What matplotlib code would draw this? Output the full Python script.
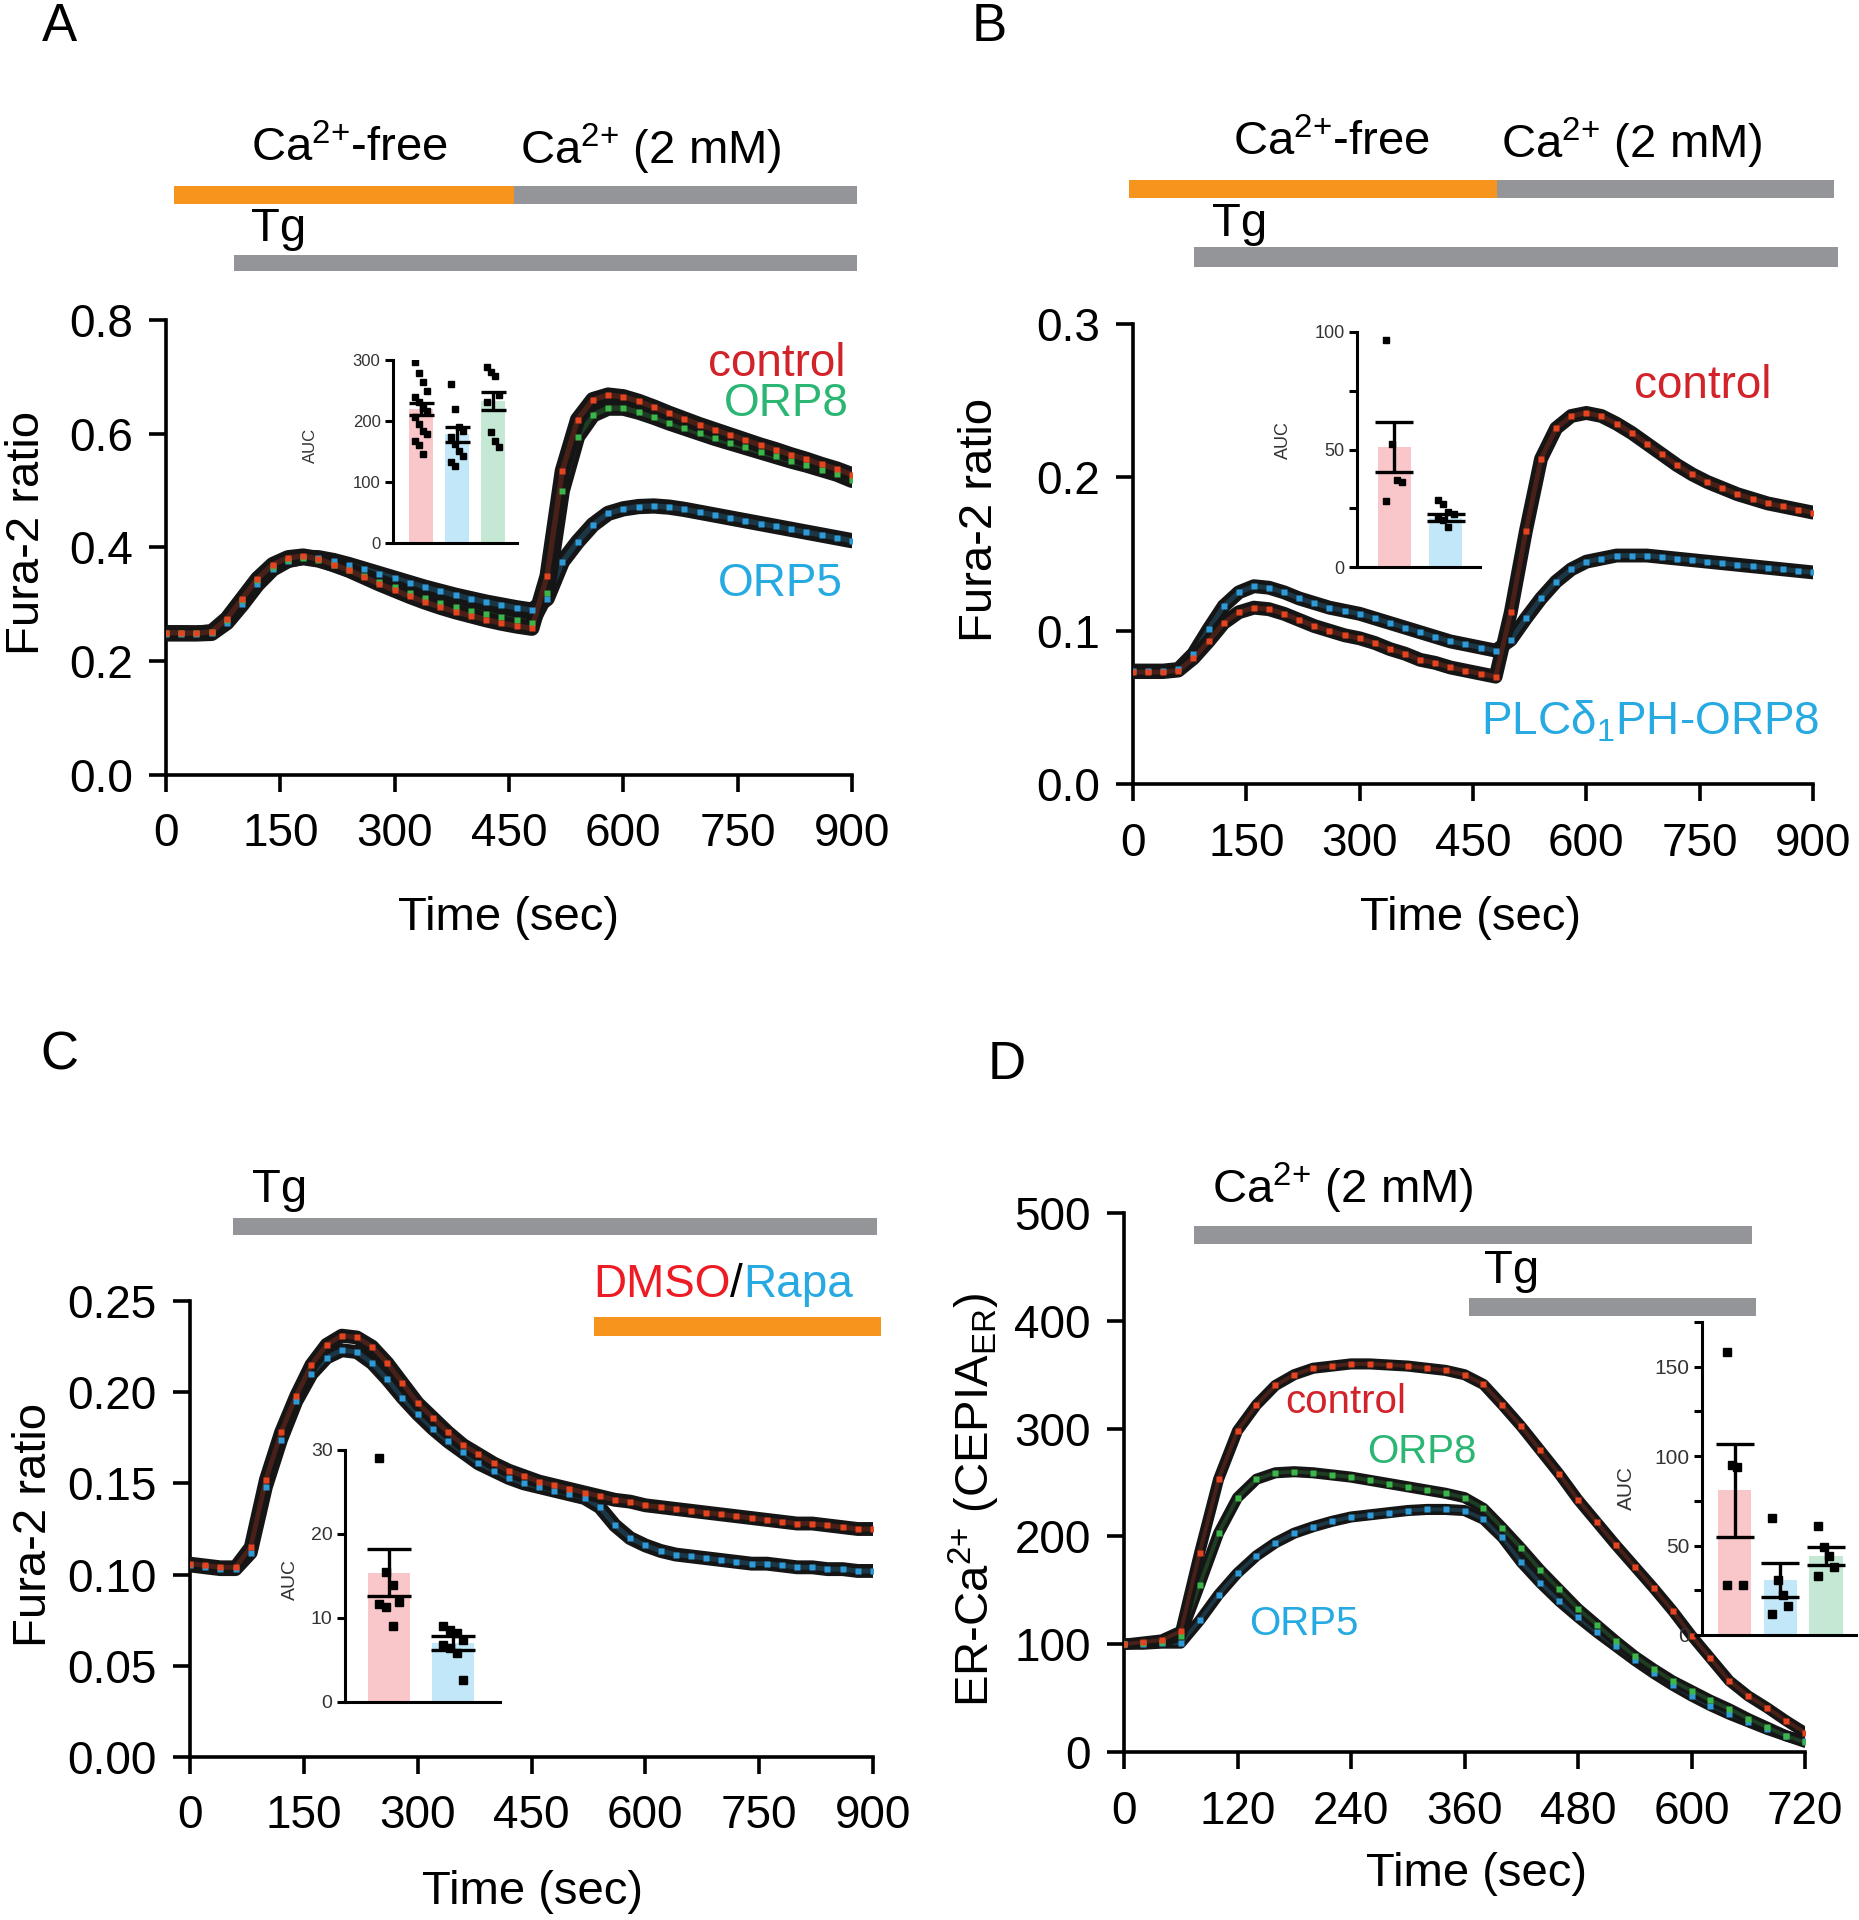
import numpy as np
import matplotlib
matplotlib.use('Agg')
import matplotlib.pyplot as plt
import matplotlib.transforms as mtransforms
from matplotlib.patches import Rectangle
from matplotlib.ticker import FormatStrFormatter

plt.rcParams['font.family'] = ['Liberation Sans', 'DejaVu Sans']
plt.rcParams['mathtext.fontset'] = 'custom'
plt.rcParams['mathtext.rm'] = 'Liberation Sans'
plt.rcParams['mathtext.it'] = 'Liberation Sans:italic'
plt.rcParams['mathtext.bf'] = 'Liberation Sans:bold'

W, H = 1859, 1920

# ---------------- data ----------------
t900 = [0, 20, 40, 60, 80, 100, 120, 140, 160, 180, 200, 220, 240, 260, 280, 300,
        320, 340, 360, 380, 400, 420, 440, 460, 480, 500, 520, 540, 560, 580, 600,
        620, 640, 660, 680, 700, 720, 740, 760, 780, 800, 820, 840, 860, 880, 900]
t720 = [0, 20, 40, 60, 80, 100, 120, 140, 160, 180, 200, 220, 240, 260, 280, 300,
        320, 340, 360, 380, 400, 420, 440, 460, 480, 500, 520, 540, 560, 580, 600,
        620, 640, 660, 680, 700, 720]

# panel A : Fura-2 ratio
a_control = [0.250, 0.250, 0.249, 0.252, 0.275, 0.310, 0.345, 0.370, 0.382, 0.385, 0.380,
             0.370, 0.360, 0.348, 0.336, 0.325, 0.314, 0.304, 0.295, 0.287, 0.280, 0.273,
             0.267, 0.262, 0.258, 0.350, 0.535, 0.625, 0.660, 0.668, 0.665, 0.657, 0.647,
             0.636, 0.626, 0.616, 0.607, 0.598, 0.589, 0.580, 0.572, 0.563, 0.555, 0.546,
             0.538, 0.528]
a_orp8 = [0.250, 0.250, 0.250, 0.251, 0.272, 0.307, 0.342, 0.366, 0.378, 0.382, 0.378,
          0.370, 0.361, 0.350, 0.340, 0.330, 0.320, 0.311, 0.303, 0.296, 0.289, 0.283,
          0.277, 0.272, 0.268, 0.320, 0.500, 0.595, 0.633, 0.645, 0.645, 0.638, 0.629,
          0.619, 0.610, 0.601, 0.592, 0.584, 0.576, 0.568, 0.560, 0.552, 0.545, 0.537,
          0.529, 0.518]
a_orp5 = [0.248, 0.248, 0.248, 0.249, 0.268, 0.300, 0.335, 0.362, 0.377, 0.383, 0.382,
          0.377, 0.370, 0.362, 0.354, 0.346, 0.338, 0.330, 0.323, 0.316, 0.310, 0.304,
          0.299, 0.294, 0.290, 0.310, 0.375, 0.410, 0.440, 0.460, 0.468, 0.472, 0.473,
          0.471, 0.467, 0.462, 0.457, 0.452, 0.447, 0.442, 0.437, 0.432, 0.427, 0.422,
          0.417, 0.412]

# panel B
b_control = [0.073, 0.073, 0.073, 0.074, 0.082, 0.093, 0.105, 0.112, 0.115, 0.114, 0.111,
             0.107, 0.103, 0.100, 0.097, 0.095, 0.092, 0.088, 0.085, 0.081, 0.079, 0.076,
             0.074, 0.072, 0.070, 0.112, 0.165, 0.212, 0.232, 0.240, 0.242, 0.240, 0.235,
             0.229, 0.222, 0.215, 0.208, 0.202, 0.197, 0.193, 0.189, 0.186, 0.183, 0.181,
             0.179, 0.177]
b_plc = [0.074, 0.074, 0.074, 0.075, 0.085, 0.101, 0.116, 0.125, 0.129, 0.128, 0.125,
         0.121, 0.118, 0.115, 0.113, 0.111, 0.108, 0.105, 0.102, 0.099, 0.096, 0.093,
         0.091, 0.089, 0.087, 0.094, 0.108, 0.121, 0.132, 0.140, 0.145, 0.147, 0.149,
         0.149, 0.149, 0.148, 0.147, 0.146, 0.145, 0.144, 0.143, 0.142, 0.141, 0.140,
         0.139, 0.138]

# panel C
c_dmso = [0.106, 0.105, 0.104, 0.104, 0.115, 0.152, 0.178, 0.198, 0.215, 0.226, 0.231,
          0.230, 0.225, 0.216, 0.205, 0.194, 0.186, 0.178, 0.171, 0.166, 0.161, 0.157,
          0.154, 0.151, 0.149, 0.147, 0.145, 0.143, 0.141, 0.140, 0.138, 0.137, 0.136,
          0.135, 0.134, 0.133, 0.132, 0.131, 0.130, 0.129, 0.128, 0.128, 0.127, 0.126,
          0.125, 0.125]
c_rapa = [0.105, 0.104, 0.103, 0.103, 0.112, 0.148, 0.174, 0.195, 0.210, 0.219, 0.223,
          0.222, 0.216, 0.207, 0.197, 0.188, 0.180, 0.173, 0.167, 0.161, 0.157, 0.153,
          0.150, 0.148, 0.146, 0.144, 0.142, 0.137, 0.127, 0.120, 0.116, 0.113, 0.111,
          0.110, 0.109, 0.108, 0.107, 0.106, 0.106, 0.105, 0.104, 0.104, 0.103, 0.103,
          0.102, 0.102]

# panel D : ER-Ca2+
d_control = [100, 102, 104, 112, 185, 253, 298, 322, 340, 350, 356, 358, 360, 360, 359,
             358, 356, 354, 350, 341, 322, 302, 280, 258, 234, 213, 192, 172, 152, 131,
             108, 87, 66, 52, 41, 29, 18]
d_orp8 = [100, 101, 102, 108, 155, 203, 236, 253, 259, 260, 259, 257, 255, 252, 249,
          246, 243, 240, 236, 226, 208, 189, 169, 151, 133, 118, 103, 89, 77, 66, 57,
          48, 40, 31, 23, 15, 9]
d_orp5 = [100, 100, 101, 101, 122, 146, 166, 182, 194, 203, 209, 214, 218, 220, 222,
          224, 225, 225, 224, 216, 199, 176, 157, 140, 125, 111, 98, 85, 73, 62, 52, 43,
          35, 28, 21, 15, 10]

# stimulus bars (sec)
a_ca_free, a_ca_2mm, a_tg = (11, 456), (456, 906), (89, 906)
b_ca_free, b_ca_2mm, b_tg = (-5, 482), (482, 928), (81, 933)
c_tg, c_rapa_bar = (57, 905), (533, 910)
d_ca_2mm, d_tg = (74, 664), (365, 668)

# AUC insets
a_auc_mean = [220, 178, 233]
a_auc_sem = [10, 12, 15]
a_auc_pts = [[297, 278, 264, 250, 239, 231, 222, 217, 206, 195, 184, 179, 168, 160, 146],
             [261, 219, 190, 184, 173, 162, 151, 143, 132, 127],
             [289, 281, 273, 243, 231, 182, 168, 157]]
b_auc_mean = [51, 21]
b_auc_sem = [10.5, 1.5]
b_auc_pts = [[96.5, 52.5, 37, 36, 28],
             [28.4, 26.9, 23.4, 22.7, 21.3, 19.9, 17]]
c_auc_mean = [15.4, 7.0]
c_auc_sem = [2.8, 0.8]
c_auc_pts = [[29, 15.5, 13.9, 11.9, 11.7, 11.3, 9],
             [9, 8.6, 8.2, 7.4, 6.8, 6.4, 5.8, 2.6]]
d_auc_mean = [81, 30.5, 44]
d_auc_sem = [26, 9.5, 5]
d_auc_pts = [[158, 95, 94, 28, 28],
             [65.6, 31, 22.5, 16, 12],
             [61, 49, 44, 38, 33]]

# colours
RED, GREEN, BLUE = '#e4441f', '#3cb54a', '#2f9ad8'
LRED, LGREEN, LBLUE = '#d2232a', '#2bb673', '#27aae1'
PINK_BAR, BLUE_BAR, GREEN_BAR = '#f9c6c9', '#c1e7f8', '#c4e8d3'
ORANGE, GREY = '#f7941d', '#939598'

fig = plt.figure(figsize=(W / 100, H / 100), dpi=100)


def rect(l, t, r, b):
    return [l / W, 1 - b / H, (r - l) / W, (b - t) / H]


def ftext(x, y, s, **kw):
    return fig.text(x / W, 1 - y / H, s, **kw)


def style_main(ax):
    for s in ['top', 'right']:
        ax.spines[s].set_visible(False)
    for s in ['left', 'bottom']:
        ax.spines[s].set_linewidth(2.6)
    ax.tick_params(direction='out', length=12, width=2.6, labelsize=33)
    ax.tick_params(axis='x', pad=15)
    ax.tick_params(axis='y', pad=12)


def trace(ax, t, v, color, lw):
    # dark band with coloured symbols, like the GraphPad mean traces
    ax.plot(t, v, color='#151515', lw=lw, solid_capstyle='round',
            solid_joinstyle='round', zorder=3)
    ax.plot(t, v, color=color, lw=lw * 0.35, alpha=0.25, zorder=3)
    ax.plot(t, v, ls='none', marker='s', ms=4.5, mfc=color, mec='none', zorder=4)


def stim_bar(ax, span, ycen, h, color):
    trans = mtransforms.blended_transform_factory(ax.transData, fig.transFigure)
    fig.add_artist(Rectangle((span[0], 1 - (ycen + h / 2) / H), span[1] - span[0], h / H,
                             transform=trans, facecolor=color, edgecolor='none'))


def auc_inset(ax, means, sems, pts, colors, ylim, yticks, ylabels, xlim, width,
              fs, ms, capsize):
    x = np.arange(len(means))
    ax.bar(x, means, width=width, color=colors, zorder=1)
    for i, p in enumerate(pts):
        offs = [((k % 4) - 1.5) * width * 0.16 for k in range(len(p))]
        ax.plot(i + np.array(offs), p, ls='none', marker='s', ms=ms, color='black', zorder=2)
    ax.errorbar(x, means, yerr=sems, fmt='none', ecolor='black', elinewidth=2.4,
                capsize=capsize, capthick=2.4, zorder=3)
    ax.set_xlim(*xlim)
    ax.set_ylim(*ylim)
    ax.set_yticks(yticks)
    ax.set_yticklabels(ylabels)
    ax.set_xticks([])
    ax.set_facecolor('none')
    for s in ['top', 'right']:
        ax.spines[s].set_visible(False)
    for s in ['left', 'bottom']:
        ax.spines[s].set_linewidth(2.2)
    ax.tick_params(axis='y', direction='out', length=6, width=2.2, labelsize=fs,
                   pad=3, labelcolor='#333333')


# "{+}" keeps mathtext from spacing the plus sign like a binary operator
SUP = '$^{\\mathregular{2{+}}}$'
ca_free = 'Ca' + SUP + '-free'
ca_2mm = 'Ca' + SUP + ' (2 mM)'

# ---------------- panel A ----------------
axA = fig.add_axes(rect(166, 320, 852, 775))
trace(axA, t900, a_orp5, BLUE, 11)
trace(axA, t900, a_orp8, GREEN, 11)
trace(axA, t900, a_control, RED, 11)
axA.set_xlim(0, 900)
axA.set_ylim(0, 0.8)
axA.set_xticks([0, 150, 300, 450, 600, 750, 900])
axA.set_yticks([0, 0.2, 0.4, 0.6, 0.8])
axA.yaxis.set_major_formatter(FormatStrFormatter('%.1f'))
style_main(axA)
stim_bar(axA, a_ca_free, 195, 18, ORANGE)
stim_bar(axA, a_ca_2mm, 195, 18, GREY)
stim_bar(axA, a_tg, 263, 16, GREY)
ftext(349, 149, ca_free, fontsize=34, ha='center', va='center')
ftext(651, 149, ca_2mm, fontsize=34, ha='center', va='center')
ftext(251, 229, 'Tg', fontsize=34, ha='left', va='center')
ftext(845, 364, 'control', fontsize=33, ha='right', va='center', color=LRED)
ftext(849, 404, 'ORP8', fontsize=33, ha='right', va='center', color=LGREEN)
ftext(843, 584, 'ORP5', fontsize=33, ha='right', va='center', color=LBLUE)
ftext(59, 27, 'A', fontsize=38, ha='center', va='center')
ftext(27, 533, 'Fura-2 ratio', fontsize=34, ha='center', va='center', rotation=90)
ftext(508, 918, 'Time (sec)', fontsize=34, ha='center', va='center')

inA = fig.add_axes(rect(393, 360, 517, 543))
auc_inset(inA, a_auc_mean, a_auc_sem, a_auc_pts, [PINK_BAR, BLUE_BAR, GREEN_BAR],
          (0, 300), [0, 100, 200, 300], ['0', '100', '200', '300'],
          (-0.78, 2.67), 0.67, 12, 5, 9)
ftext(310, 445, 'AUC', fontsize=12, ha='center', va='center', rotation=90, color='#333333')

# ---------------- panel B ----------------
axB = fig.add_axes(rect(1133, 324, 1813, 784))
trace(axB, t900, b_plc, BLUE, 10)
trace(axB, t900, b_control, RED, 10)
axB.set_xlim(0, 900)
axB.set_ylim(0, 0.3)
axB.set_xticks([0, 150, 300, 450, 600, 750, 900])
axB.set_yticks([0, 0.1, 0.2, 0.3])
axB.yaxis.set_major_formatter(FormatStrFormatter('%.1f'))
style_main(axB)
stim_bar(axB, b_ca_free, 189, 18, ORANGE)
stim_bar(axB, b_ca_2mm, 189, 18, GREY)
stim_bar(axB, b_tg, 257, 20, GREY)
ftext(1331, 143, ca_free, fontsize=34, ha='center', va='center')
ftext(1632, 143, ca_2mm, fontsize=34, ha='center', va='center')
ftext(1212, 224, 'Tg', fontsize=34, ha='left', va='center')
ftext(1772, 386, 'control', fontsize=33, ha='right', va='center', color=LRED)
ftext(1819, 722, 'PLCδ$_{\\mathregular{1}}$PH-ORP8', fontsize=33, ha='right',
      va='center', color=LBLUE)
ftext(989, 27, 'B', fontsize=38, ha='center', va='center')
ftext(980, 520, 'Fura-2 ratio', fontsize=34, ha='center', va='center', rotation=90)
ftext(1471, 918, 'Time (sec)', fontsize=34, ha='center', va='center')

inB = fig.add_axes(rect(1357, 332, 1480, 567))
auc_inset(inB, b_auc_mean, b_auc_sem, b_auc_pts, [PINK_BAR, BLUE_BAR],
          (0, 100), [0, 25, 50, 75, 100], ['0', '', '50', '', '100'],
          (-0.73, 1.67), 0.65, 13, 5, 14)
ftext(1283, 440, 'AUC', fontsize=13, ha='center', va='center', rotation=90, color='#333333')

# ---------------- panel C ----------------
axC = fig.add_axes(rect(190, 1301, 873, 1757))
trace(axC, t900, c_rapa, BLUE, 10)
trace(axC, t900, c_dmso, RED, 10)
axC.set_xlim(0, 900)
axC.set_ylim(0, 0.25)
axC.set_xticks([0, 150, 300, 450, 600, 750, 900])
axC.set_yticks([0, 0.05, 0.10, 0.15, 0.20, 0.25])
axC.yaxis.set_major_formatter(FormatStrFormatter('%.2f'))
style_main(axC)
stim_bar(axC, c_tg, 1226, 17, GREY)
stim_bar(axC, c_rapa_bar, 1326, 19, ORANGE)
ftext(252, 1190, 'Tg', fontsize=34, ha='left', va='center')
t1 = ftext(593, 1285, 'DMSO', fontsize=33, ha='left', va='center', color='#ed1c24')
t2 = axC.annotate('/', xy=(1, 0), xycoords=t1, ha='left', va='bottom', fontsize=33,
                  color='black', annotation_clip=False)
axC.annotate('Rapa', xy=(1, 0), xycoords=t2, ha='left', va='bottom', fontsize=33,
             color=LBLUE, annotation_clip=False)
ftext(59, 1056, 'C', fontsize=38, ha='center', va='center')
ftext(34, 1525, 'Fura-2 ratio', fontsize=34, ha='center', va='center', rotation=90)
ftext(533, 1892, 'Time (sec)', fontsize=34, ha='center', va='center')

inC = fig.add_axes(rect(345, 1450, 500, 1702))
auc_inset(inC, c_auc_mean, c_auc_sem, c_auc_pts, [PINK_BAR, BLUE_BAR],
          (0, 30), [0, 10, 20, 30], ['0', '10', '20', '30'],
          (-0.69, 1.73), 0.66, 14, 6, 16)
ftext(290, 1580, 'AUC', fontsize=14, ha='center', va='center', rotation=90, color='#333333')

# ---------------- panel D ----------------
axD = fig.add_axes(rect(1124, 1213, 1805, 1752))
trace(axD, t720, d_orp5, BLUE, 8)
trace(axD, t720, d_orp8, GREEN, 8)
trace(axD, t720, d_control, RED, 8)
axD.set_xlim(0, 720)
axD.set_ylim(0, 500)
axD.set_xticks([0, 120, 240, 360, 480, 600, 720])
axD.set_yticks([0, 100, 200, 300, 400, 500])
style_main(axD)
stim_bar(axD, d_ca_2mm, 1235, 18, GREY)
stim_bar(axD, d_tg, 1307, 18, GREY)
ftext(1212, 1188, ca_2mm, fontsize=34, ha='left', va='center')
ftext(1484, 1271, 'Tg', fontsize=34, ha='left', va='center')
ftext(1346, 1402, 'control', fontsize=29, ha='center', va='center', color=LRED)
ftext(1422, 1452, 'ORP8', fontsize=29, ha='center', va='center', color=LGREEN)
ftext(1304, 1624, 'ORP5', fontsize=29, ha='center', va='center', color=LBLUE)
ftext(1007, 1065, 'D', fontsize=38, ha='center', va='center')
ftext(974, 1500, 'ER-Ca' + SUP + ' (CEPIA$_{\\mathregular{ER}}$)', fontsize=34,
      ha='center', va='center', rotation=90)
ftext(1476, 1874, 'Time (sec)', fontsize=34, ha='center', va='center')

inD = fig.add_axes(rect(1702, 1322, 1856, 1635))
auc_inset(inD, d_auc_mean, d_auc_sem, d_auc_pts, [PINK_BAR, BLUE_BAR, GREEN_BAR],
          (0, 175), [0, 25, 50, 75, 100, 125, 150, 175],
          ['0', '', '50', '', '100', '', '150', ''],
          (-0.71, 2.65), 0.73, 15, 6, 14)
ftext(1626, 1488, 'AUC', fontsize=15, ha='center', va='center', rotation=90, color='#333333')

fig.savefig('out.png', dpi=100)
